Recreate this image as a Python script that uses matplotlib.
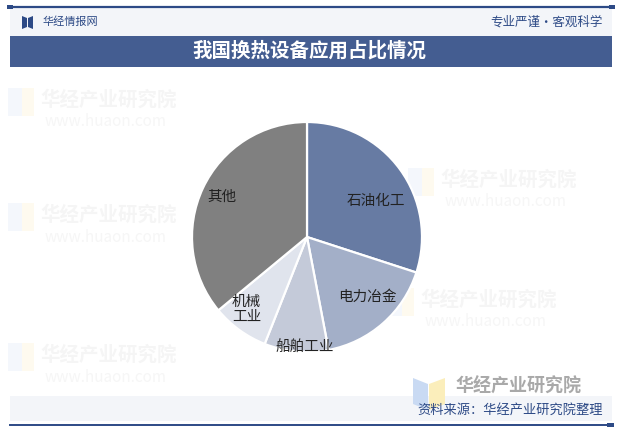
import matplotlib
matplotlib.use("Agg")
import matplotlib.pyplot as plt
import numpy as np
from matplotlib.patches import Rectangle, Polygon

plt.rcParams["font.family"] = ["Noto Sans CJK SC", "DejaVu Sans"]

# ---- data ------------------------------------------------------------------
labels = ["石油化工", "电力冶金", "船舶工业", "机械\n工业", "其他"]
shares = [30, 17, 9, 8, 36]
colors = ["#677ba3", "#a3afc8", "#c4cad9", "#e0e4ed", "#808080"]
label_r = [0.68, 0.74, 0.96, 0.82, 0.82]     # radial position of each label
label_shift = [-8.5, 3.5, 4, -4, 0]          # angular nudge (deg)

TITLE = "我国换热设备应用占比情况"
SOURCE = "资料来源：华经产业研究院整理"
W, H = 619, 434
NAVY = "#2d4a86"

fig = plt.figure(figsize=(W / 100, H / 100), dpi=100)

# ---- frame / header drawn in pixel coordinates -------------------------------
bg = fig.add_axes([0, 0, 1, 1])
bg.set_xlim(0, W); bg.set_ylim(H, 0); bg.axis("off")

# faint watermarks
for (wx, wy) in [(40, 100), (40, 215), (40, 355), (440, 180), (420, 300)]:
    bg.add_patch(Rectangle((wx - 32, wy - 12), 14, 28, color="#f4f7fc", lw=0))
    bg.add_patch(Rectangle((wx - 18, wy - 12), 12, 28, color="#fefaef", lw=0))
    bg.text(wx, wy, "华经产业研究院", fontsize=14, weight="bold", color="#f5f5f5",
            va="center", ha="left")
    bg.text(wx + 5, wy + 22, "www.huaon.com", fontsize=11, color="#f6f6f6",
            va="center", ha="left")

bg.add_patch(Rectangle((10, 8), 602, 28, color="#f3f5f9", lw=0))
bg.plot([10, 612], [7, 7], color=NAVY, lw=1.6)
for x in (10, 612):
    bg.add_patch(Rectangle((x - 3, 5), 6, 4, color=NAVY, lw=0))
bg.add_patch(Polygon([(22, 16), (27, 18), (27, 27), (22, 29)], color=NAVY, lw=0))
bg.add_patch(Polygon([(28, 18), (33, 16), (33, 29), (28, 27)], color=NAVY, lw=0))
bg.text(43, 22, "华经情报网", fontsize=8, color=NAVY, va="center", ha="left")
bg.text(603, 22, "专业严谨•客观科学", fontsize=9, color=NAVY, va="center", ha="right")

bg.add_patch(Rectangle((10, 36), 602, 31, color="#445d91", lw=0))
bg.text(309, 51, TITLE, fontsize=14, color="white", weight="bold",
        va="center", ha="center")

# bottom band, logo and source
bg.add_patch(Rectangle((10, 396), 602, 25, color="#f3f5f9", lw=0))
bg.add_patch(Polygon([(413, 378), (428, 384), (428, 410), (413, 404)], color="#c9daf3", lw=0))
bg.add_patch(Polygon([(429, 384), (445, 378), (445, 404), (429, 410)], color="#fbeebb", lw=0))
bg.text(455, 386, "华经产业研究院", fontsize=13, weight="bold", color="#a9a9a9",
        va="center", ha="left")
bg.text(603, 410, SOURCE, fontsize=9.5, color=NAVY, va="center", ha="right")
bg.plot([10, 612], [425, 425], color=NAVY, lw=1.4)
bg.add_patch(Rectangle((607, 423), 7, 4, color=NAVY, lw=0))

# ---- pie --------------------------------------------------------------------
cx, cy, R = 307, 237, 115
ax = fig.add_axes([(cx - 120) / W, (H - cy - 120) / H, 240 / W, 240 / H])
wedges, _ = ax.pie(shares, colors=colors, startangle=90, counterclock=False,
                   wedgeprops=dict(edgecolor="white", linewidth=1.6))
ax.set_xlim(-120 / R, 120 / R); ax.set_ylim(-120 / R, 120 / R)
ax.set_aspect("equal"); ax.axis("off")

for w, lab, r, d in zip(wedges, labels, label_r, label_shift):
    ang = np.deg2rad((w.theta1 + w.theta2) / 2 + d)
    ax.text(r * np.cos(ang), r * np.sin(ang), lab, fontsize=10.5, color="#222222",
            ha="center", va="center", linespacing=1.1)

fig.savefig("out.png", dpi=100)
